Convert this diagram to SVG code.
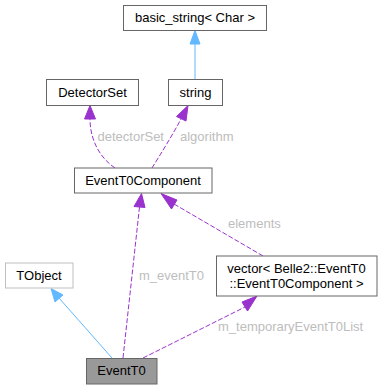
<svg xmlns="http://www.w3.org/2000/svg" width="383" height="389" viewBox="0 0 383 389">
<style>
text{font-family:"Liberation Sans",Arial,sans-serif;font-size:13px;}
.n{fill:#ffffff;stroke:#666666;stroke-width:1;}
.t{fill:#000000;text-anchor:middle;}
.l{fill:#bdbdbd;}
.p{fill:none;stroke:#9a32cd;stroke-width:1;stroke-dasharray:5,2;}
.b{fill:none;stroke:#63b8ff;stroke-width:1;}
</style>
<rect width="383" height="389" fill="#ffffff"/>
<g id="edges">
  <path class="b" d="M195,79 L195,44"/>
  <polygon points="190,44 195,30.5 200,44" fill="#63b8ff" stroke="#63b8ff"/>
  <path class="p" d="M115,168 C100,158 90,140 90,119"/>
  <polygon points="84.5,119 90,105.5 95.5,119" fill="#9a32cd" stroke="#9a32cd"/>
  <text class="l" x="97.5" y="140.5">detectorSet</text>
  <path class="p" d="M152,168 C160,155 172,136 181,119"/>
  <polygon points="176.5,116.5 188,105.5 186,121" fill="#9a32cd" stroke="#9a32cd"/>
  <text class="l" x="180" y="140.5">algorithm</text>
  <path class="p" d="M123,358 L139.5,207"/>
  <polygon points="134,206.5 141.5,193.5 145,207.5" fill="#9a32cd" stroke="#9a32cd"/>
  <text class="l" x="139" y="279.5">m_eventT0</text>
  <path class="p" d="M263,256 L174,204"/>
  <polygon points="171.5,209 161,193.5 177,200" fill="#9a32cd" stroke="#9a32cd"/>
  <text class="l" x="228" y="227.5">elements</text>
  <path class="p" d="M143,358 L245,307"/>
  <polygon points="242,302 257,296 247.5,311" fill="#9a32cd" stroke="#9a32cd"/>
  <text class="l" x="218" y="331">m_temporaryEventT0List</text>
  <path class="b" d="M112,358 L59,298"/>
  <polygon points="55,302 51,288.5 63,295" fill="#63b8ff" stroke="#63b8ff"/>
</g>
<g id="node_basic_string">
  <rect class="n" x="123.5" y="5.5" width="143" height="25"/>
  <text class="t" x="195" y="22">basic_string&lt; Char &gt;</text>
</g>
<g id="node_DetectorSet">
  <rect class="n" x="46.5" y="79.5" width="92" height="26"/>
  <text class="t" x="92.5" y="96.5">DetectorSet</text>
</g>
<g id="node_string">
  <rect class="n" x="168.5" y="79.5" width="54" height="26"/>
  <text class="t" x="195.5" y="96.5">string</text>
</g>
<g id="node_EventT0Component">
  <rect class="n" x="74.5" y="168" width="137.5" height="25"/>
  <text class="t" x="143" y="184.5">EventT0Component</text>
</g>
<g id="node_vector">
  <rect class="n" x="216.5" y="256" width="160.5" height="40"/>
  <text class="t" x="296.5" y="273">vector&lt; Belle2::EventT0</text>
  <text class="t" x="296.5" y="288">::EventT0Component &gt;</text>
</g>
<g id="node_TObject">
  <rect x="5.5" y="263" width="67.5" height="25" fill="#ffffff" stroke="#bfbfbf"/>
  <text class="t" x="39" y="279.5">TObject</text>
</g>
<g id="node_EventT0">
  <rect x="86.5" y="358.5" width="70.5" height="25.5" fill="#999999" stroke="#666666"/>
  <text class="t" x="121.5" y="374.5">EventT0</text>
</g>
</svg>
